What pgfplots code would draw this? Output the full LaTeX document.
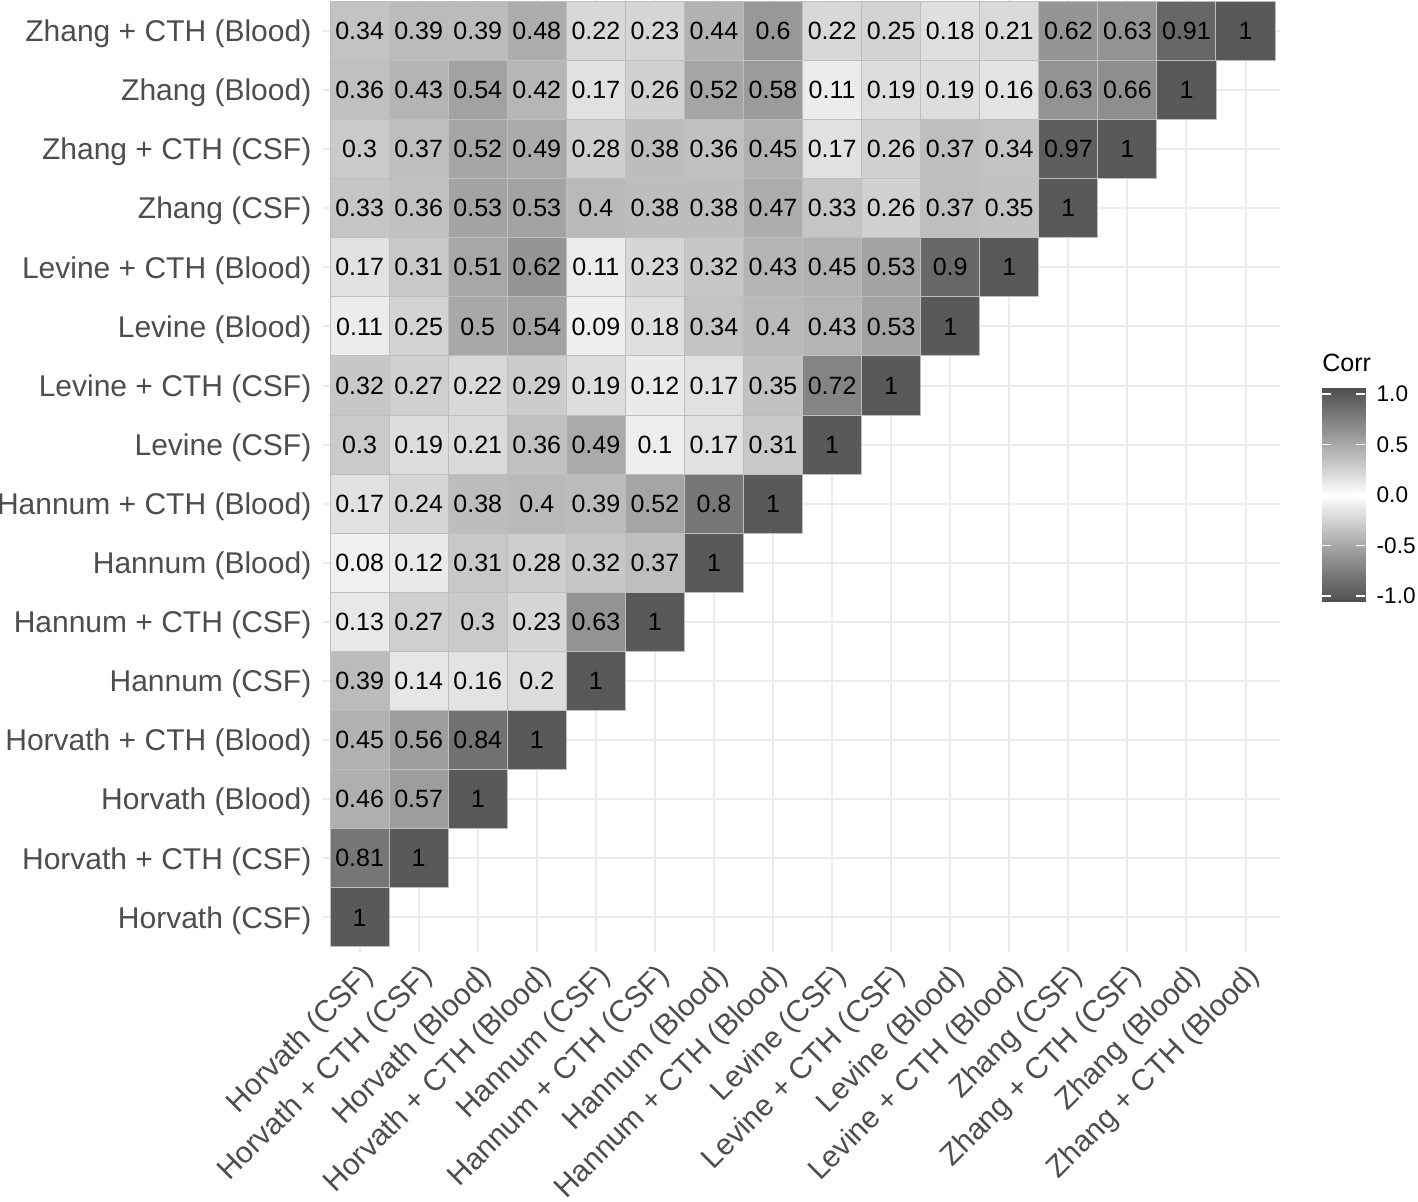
\documentclass[border=0pt]{standalone}
\usepackage{pgfplots}
\usepackage{pgfplotstable}
\pgfplotsset{compat=1.18}
\usepackage{fontspec}
\setmainfont{Liberation Sans}
\definecolor{axtext}{HTML}{4D4D4D}
\definecolor{gridc}{HTML}{EBEBEB}
\definecolor{cellborder}{HTML}{BEBEBE}
\pgfplotsset{
  colormap={corrgray}{rgb255=(80,80,80) rgb255=(120,120,120) rgb255=(163,163,163) rgb255=(208,208,208) rgb255=(255,255,255) rgb255=(208,208,208) rgb255=(163,163,163) rgb255=(120,120,120) rgb255=(80,80,80)},
}
\pgfplotstableread[row sep=\\]{
x y c\\
0 0 1\\
0 1 0.81\\ 1 1 1\\
0 2 0.46\\ 1 2 0.57\\ 2 2 1\\
0 3 0.45\\ 1 3 0.56\\ 2 3 0.84\\ 3 3 1\\
0 4 0.39\\ 1 4 0.14\\ 2 4 0.16\\ 3 4 0.2\\ 4 4 1\\
0 5 0.13\\ 1 5 0.27\\ 2 5 0.3\\ 3 5 0.23\\ 4 5 0.63\\ 5 5 1\\
0 6 0.08\\ 1 6 0.12\\ 2 6 0.31\\ 3 6 0.28\\ 4 6 0.32\\ 5 6 0.37\\ 6 6 1\\
0 7 0.17\\ 1 7 0.24\\ 2 7 0.38\\ 3 7 0.4\\ 4 7 0.39\\ 5 7 0.52\\ 6 7 0.8\\ 7 7 1\\
0 8 0.3\\ 1 8 0.19\\ 2 8 0.21\\ 3 8 0.36\\ 4 8 0.49\\ 5 8 0.1\\ 6 8 0.17\\ 7 8 0.31\\ 8 8 1\\
0 9 0.32\\ 1 9 0.27\\ 2 9 0.22\\ 3 9 0.29\\ 4 9 0.19\\ 5 9 0.12\\ 6 9 0.17\\ 7 9 0.35\\ 8 9 0.72\\ 9 9 1\\
0 10 0.11\\ 1 10 0.25\\ 2 10 0.5\\ 3 10 0.54\\ 4 10 0.09\\ 5 10 0.18\\ 6 10 0.34\\ 7 10 0.4\\ 8 10 0.43\\ 9 10 0.53\\ 10 10 1\\
0 11 0.17\\ 1 11 0.31\\ 2 11 0.51\\ 3 11 0.62\\ 4 11 0.11\\ 5 11 0.23\\ 6 11 0.32\\ 7 11 0.43\\ 8 11 0.45\\ 9 11 0.53\\ 10 11 0.9\\ 11 11 1\\
0 12 0.33\\ 1 12 0.36\\ 2 12 0.53\\ 3 12 0.53\\ 4 12 0.4\\ 5 12 0.38\\ 6 12 0.38\\ 7 12 0.47\\ 8 12 0.33\\ 9 12 0.26\\ 10 12 0.37\\ 11 12 0.35\\ 12 12 1\\
0 13 0.3\\ 1 13 0.37\\ 2 13 0.52\\ 3 13 0.49\\ 4 13 0.28\\ 5 13 0.38\\ 6 13 0.36\\ 7 13 0.45\\ 8 13 0.17\\ 9 13 0.26\\ 10 13 0.37\\ 11 13 0.34\\ 12 13 0.97\\ 13 13 1\\
0 14 0.36\\ 1 14 0.43\\ 2 14 0.54\\ 3 14 0.42\\ 4 14 0.17\\ 5 14 0.26\\ 6 14 0.52\\ 7 14 0.58\\ 8 14 0.11\\ 9 14 0.19\\ 10 14 0.19\\ 11 14 0.16\\ 12 14 0.63\\ 13 14 0.66\\ 14 14 1\\
0 15 0.34\\ 1 15 0.39\\ 2 15 0.39\\ 3 15 0.48\\ 4 15 0.22\\ 5 15 0.23\\ 6 15 0.44\\ 7 15 0.6\\ 8 15 0.22\\ 9 15 0.25\\ 10 15 0.18\\ 11 15 0.21\\ 12 15 0.62\\ 13 15 0.63\\ 14 15 0.91\\ 15 15 1\\
}\corrdata
\begin{document}
\begin{tikzpicture}
\path[use as bounding box] (-161.5pt,-125pt) rectangle (547.5pt,476pt);
\begin{axis}[
  at={(0,0)}, anchor=south west,
  x=29.53pt, y=29.55pt,
  xmin=-0.62, xmax=15.59, ymin=-0.585, ymax=15.517,
  axis line style={draw=none},
  major tick length=0pt,
  xtick={0,...,15}, ytick={0,...,15},
  xticklabels={Horvath (CSF),Horvath + CTH (CSF),Horvath (Blood),Horvath + CTH (Blood),Hannum (CSF),Hannum + CTH (CSF),Hannum (Blood),Hannum + CTH (Blood),Levine (CSF),Levine + CTH (CSF),Levine (Blood),Levine + CTH (Blood),Zhang (CSF),Zhang + CTH (CSF),Zhang (Blood),Zhang + CTH (Blood)},
  yticklabels={Horvath (CSF),Horvath + CTH (CSF),Horvath (Blood),Horvath + CTH (Blood),Hannum (CSF),Hannum + CTH (CSF),Hannum (Blood),Hannum + CTH (Blood),Levine (CSF),Levine + CTH (CSF),Levine (Blood),Levine + CTH (Blood),Zhang (CSF),Zhang + CTH (CSF),Zhang (Blood),Zhang + CTH (Blood)},
  grid=major, major grid style={gridc, line width=1pt},
  xticklabel style={rotate=45, anchor=north east, font=\fontsize{15}{18}\selectfont, text=axtext},
  yticklabel style={anchor=east, font=\fontsize{15}{18}\selectfont, text=axtext, xshift=-2.3pt, yshift=-1.5pt},
  colormap name=corrgray,
  point meta min=-1.06, point meta max=1.06,
]
\addplot+[scatter, only marks, mark=square*, mark size=14.77pt,
  scatter src=explicit,
  scatter/use mapped color={draw=cellborder, fill=mapped color},
  mark options={line width=0.5pt},
] table[x=x, y=y, meta=c] {\corrdata};
\addplot[only marks, mark=none, point meta=explicit,
  nodes near coords={\pgfmathprintnumber[fixed,precision=2,assume math mode=true]{\pgfplotspointmeta}},
  nodes near coords style={anchor=center, font=\fontsize{12.5}{14}\selectfont, text=black},
] table[x=x, y=y, meta=c] {\corrdata};
\end{axis}
\begin{axis}[
  at={(499.5pt,175pt)}, anchor=south west,
  scale only axis, width=21.5pt, height=107pt,
  xmin=0, xmax=1, ymin=-1.06, ymax=1.06,
  colormap name=corrgray,
  point meta min=-1.06, point meta max=1.06,
  axis line style={draw=none},
  xtick=\empty,
  ytick={-1,-0.5,0,0.5,1},
  yticklabel pos=right,
  ytick pos=both,
  tick align=inside, major tick length=4.3pt,
  ytick style={white, line width=0.8pt},
  yticklabel style={anchor=west, font=\fontsize{11.3}{13}\selectfont, text=black, xshift=2.3pt, /pgf/number format/.cd, fixed, fixed zerofill, precision=1, assume math mode=true},
  title={Corr},
  title style={at={(0,1)}, anchor=base west, yshift=2pt, xshift=0pt, inner sep=0pt, font=\fontsize{12.5}{14}\selectfont},
  axis on top,
]
\addplot[surf, shader=interp, point meta=y] coordinates {
(0,-1.06) (1,-1.06)

(0,-0.795) (1,-0.795)

(0,-0.53) (1,-0.53)

(0,-0.265) (1,-0.265)

(0,0) (1,0)

(0,0.265) (1,0.265)

(0,0.53) (1,0.53)

(0,0.795) (1,0.795)

(0,1.06) (1,1.06)
};
\end{axis}
\end{tikzpicture}
\end{document}
